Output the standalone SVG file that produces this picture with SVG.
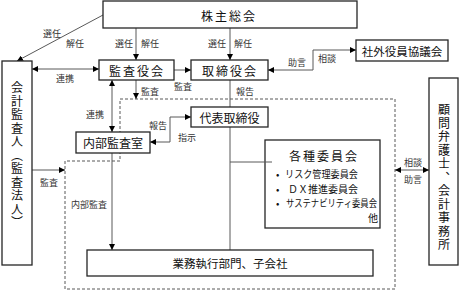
<svg xmlns="http://www.w3.org/2000/svg" width="460" height="292" viewBox="0 0 460 292">
<style>
.box{fill:#fff;stroke:#262626;stroke-width:1.3}
.ln{fill:none;stroke:#595959;stroke-width:1}
.dash{fill:none;stroke:#595959;stroke-width:1;stroke-dasharray:3 2}
text{font-family:"Noto Sans CJK JP","Noto Sans",sans-serif;fill:#111}
.t{font-size:12px;text-anchor:middle;dominant-baseline:central}
.ts{font-size:12px;text-anchor:middle;dominant-baseline:central;letter-spacing:2px}
.lb{font-size:9px;text-anchor:middle;dominant-baseline:central;fill:#333}
.it{font-size:10px;dominant-baseline:central}
.v{font-size:12px;writing-mode:vertical-rl;text-anchor:middle;letter-spacing:1.5px}
</style>
<defs>
<marker id="ar" viewBox="0 0 10 10" refX="10" refY="5" markerWidth="6" markerHeight="6" markerUnits="userSpaceOnUse" orient="auto-start-reverse">
<path d="M0,0 L10,5 L0,10 z" fill="#000"/>
</marker>
</defs>

<polygon class="dash" points="120,99 395,99 395,289 65,289 65,161 120,161"/>

<g id="connectors">
<line class="ln" x1="103" y1="15" x2="17" y2="61" marker-end="url(#ar)"/>
<line class="ln" x1="136" y1="28" x2="136" y2="60" marker-end="url(#ar)"/>
<line class="ln" x1="230" y1="28" x2="230" y2="60" marker-end="url(#ar)"/>
<line class="ln" x1="32" y1="69" x2="99" y2="69" marker-start="url(#ar)" marker-end="url(#ar)"/>
<line class="ln" x1="174" y1="70" x2="191" y2="70" marker-end="url(#ar)"/>
<path class="ln" d="M268,70 H313 V50 H356" marker-start="url(#ar)" marker-end="url(#ar)"/>
<line class="ln" x1="136" y1="80" x2="136" y2="99" marker-end="url(#ar)"/>
<line class="ln" x1="112" y1="80" x2="112" y2="132" marker-start="url(#ar)" marker-end="url(#ar)"/>
<line class="ln" x1="112" y1="153" x2="112" y2="250" marker-end="url(#ar)"/>
<line class="ln" x1="32" y1="170" x2="65" y2="170" marker-end="url(#ar)"/>
<line class="ln" x1="230" y1="80" x2="230" y2="107"/>
<path class="ln" d="M191,117 H170 V142 H150" marker-start="url(#ar)" marker-end="url(#ar)"/>
<line class="ln" x1="230" y1="127" x2="230" y2="250"/>
<line class="ln" x1="395" y1="170" x2="429" y2="170" marker-start="url(#ar)" marker-end="url(#ar)"/>

<text class="lb" x="52" y="33">選任</text>
<text class="lb" x="75" y="43">解任</text>
<text class="lb" x="124" y="43">選任</text>
<text class="lb" x="150" y="43">解任</text>
<text class="lb" x="217" y="43">選任</text>
<text class="lb" x="243" y="43">解任</text>
<text class="lb" x="65" y="78">連携</text>
<text class="lb" x="183" y="86">監査</text>
<text class="lb" x="150" y="91">監査</text>
<text class="lb" x="245" y="91">報告</text>
<text class="lb" x="297" y="62">助言</text>
<text class="lb" x="327" y="58">相談</text>
<text class="lb" x="95" y="114">連携</text>
<text class="lb" x="158" y="125">報告</text>
<text class="lb" x="187" y="137">指示</text>
<text class="lb" x="49" y="182">監査</text>
<text class="lb" x="89" y="204">内部監査</text>
<text class="lb" x="413" y="162">相談</text>
<text class="lb" x="413" y="179">助言</text>
</g>

<g id="kabunushi">
<rect class="box" x="103" y="1" width="254" height="27"/>
<text class="ts" x="229" y="15">株主総会</text>
</g>
<g id="kaikei">
<rect class="box" x="2" y="61" width="30" height="204"/>
<text class="v" x="17" y="156">会計監査人（監査法人）</text>
</g>
<g id="kansayakukai">
<rect class="box" x="99" y="60" width="75" height="20"/>
<text class="ts" x="137" y="70">監査役会</text>
</g>
<g id="torishimariyakukai">
<rect class="box" x="191" y="60" width="77" height="20"/>
<text class="ts" x="230" y="70">取締役会</text>
</g>
<g id="shagai">
<rect class="box" x="356" y="40" width="92" height="21"/>
<text class="t" x="402" y="51" style="font-size:11.5px">社外役員協議会</text>
</g>
<g id="naibu">
<rect class="box" x="76" y="132" width="74" height="21"/>
<text class="t" x="113" y="142.5">内部監査室</text>
</g>
<g id="daihyo">
<rect class="box" x="191" y="107" width="77" height="20"/>
<text class="t" x="229.5" y="117">代表取締役</text>
</g>
<g id="iinkai">
<rect class="box" x="265" y="140" width="115" height="88"/>
<line class="ln" x1="230" y1="162" x2="272" y2="162"/>
<text class="ts" x="324" y="155">各種委員会</text>
<text class="it" x="276" y="173">•</text>
<text class="it" x="285" y="173" textLength="73" lengthAdjust="spacingAndGlyphs">リスク管理委員会</text>
<text class="it" x="276" y="188">•</text>
<text class="it" x="288" y="188" textLength="70" lengthAdjust="spacingAndGlyphs">ＤＸ推進委員会</text>
<text class="it" x="276" y="202">•</text>
<text class="it" x="286" y="202" textLength="91" lengthAdjust="spacingAndGlyphs">サステナビリティ委員会</text>
<text class="it" x="368" y="217">他</text>
</g>
<g id="komon">
<rect class="box" x="429" y="78" width="29" height="187"/>
<text class="v" x="444" y="178">顧問弁護士、会計事務所</text>
</g>
<g id="gyomu">
<rect class="box" x="87" y="250" width="286" height="26"/>
<text class="t" x="230" y="263" style="font-size:11.5px">業務執行部門、子会社</text>
</g>
</svg>
